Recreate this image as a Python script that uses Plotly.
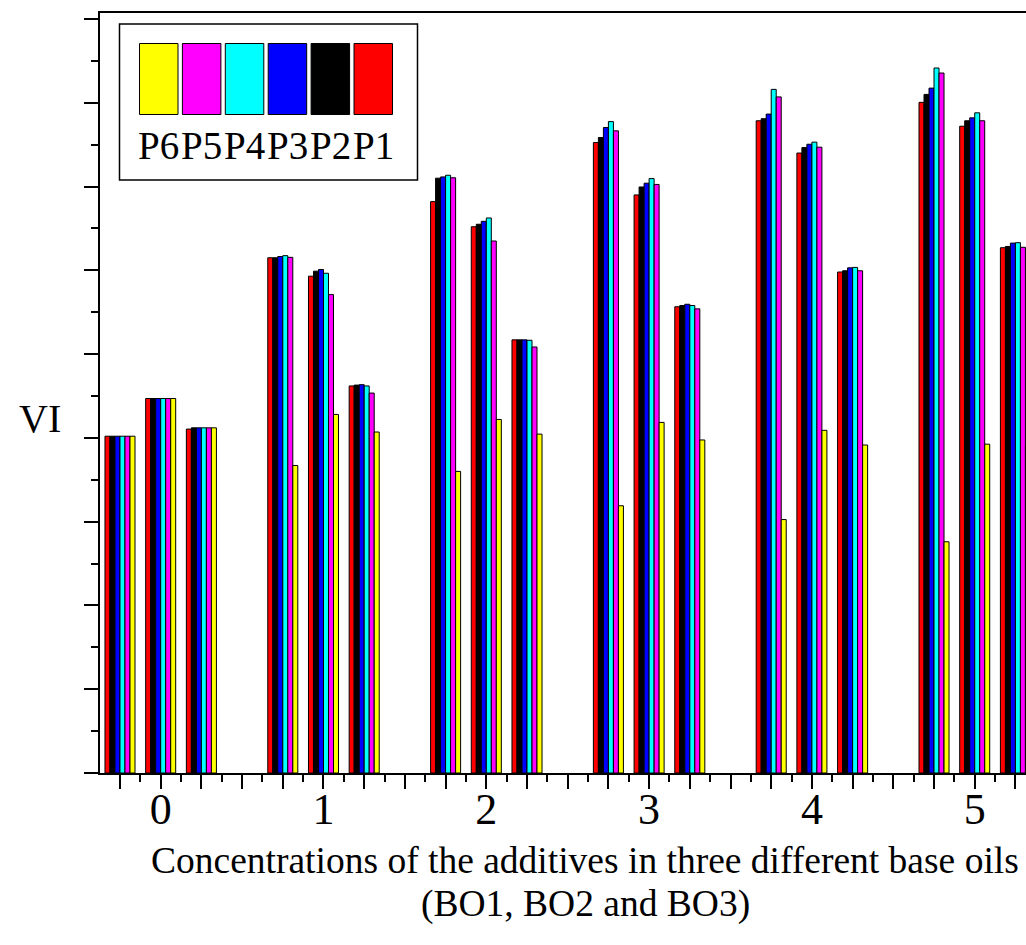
import plotly.graph_objects as go

# ---- data ----
concentrations = ["0", "1", "2", "3", "4", "5"]
base_oils = ["BO1", "BO2", "BO3"]
series_names = ["P1", "P2", "P3", "P4", "P5", "P6"]
series_colors = ["#FF0000", "#000000", "#0000FF", "#00FFFF", "#FF00FF", "#FFFF00"]

# values ordered: conc 0 (BO1, BO2, BO3), conc 1 (BO1, BO2, BO3), ...
P1 = [80.4, 89.4, 82.1, 123.0, 118.6, 92.4, 136.4, 130.4, 103.4,
      150.5, 138.0, 111.3, 155.7, 148.0, 119.6, 160.1, 154.4, 125.4]
P2 = [80.4, 89.4, 82.4, 123.0, 119.8, 92.6, 142.0, 131.0, 103.4,
      151.7, 139.9, 111.6, 156.2, 149.3, 119.9, 162.0, 155.7, 125.7]
P3 = [80.4, 89.4, 82.4, 123.3, 120.2, 92.7, 142.3, 131.7, 103.4,
      154.1, 140.8, 111.9, 157.3, 150.1, 120.6, 163.5, 156.4, 126.5]
P4 = [80.4, 89.4, 82.4, 123.5, 119.3, 92.4, 142.7, 132.5, 103.3,
      155.5, 141.9, 111.6, 163.2, 150.6, 120.7, 168.3, 157.6, 126.6]
P5 = [80.4, 89.4, 82.4, 123.1, 114.2, 90.7, 142.1, 127.0, 101.7,
      153.3, 140.5, 110.8, 161.4, 149.4, 119.9, 167.1, 155.7, 125.5]
P6 = [80.4, 89.4, 82.4, 73.4, 85.6, 81.4, 72.0, 84.4, 80.9,
      63.8, 83.7, 79.5, 60.5, 81.8, 78.3, 55.2, 78.5, 78.2]
series_values = [P1, P2, P3, P4, P5, P6]

FONT = "Liberation Serif, Times New Roman, serif"

# cluster positions on a numeric axis: 4 slots per concentration, 3 used
x_pos = [4 * ci + bi for ci in range(len(concentrations)) for bi in range(len(base_oils))]

fig = go.Figure()
bw = 0.123
n = len(series_names)
for i, (name, vals, col) in enumerate(zip(series_names, series_values, series_colors)):
    fig.add_trace(go.Bar(
        x=x_pos, y=vals, name=name,
        width=bw, offset=-n * bw / 2 + i * bw,
        marker=dict(color=col, line=dict(color="black", width=1)),
        showlegend=False,
    ))

W, H = 1026, 945
L, R, T, B = 100, 0, 13, 172
pw, ph = W - L - R, H - T - B

def px(x):
    return (x - L) / pw

def py(y):
    return (H - B - y) / ph

major_x = list(range(0, 23))
label_x = [4 * ci + 1 for ci in range(len(concentrations))]
ticktext = [concentrations[label_x.index(v)] if v in label_x else "" for v in major_x]

fig.update_layout(
    width=W, height=H, autosize=False,
    margin=dict(l=L, r=R, t=T, b=B, pad=0),
    plot_bgcolor="white", paper_bgcolor="white",
    barmode="overlay",
    font=dict(family=FONT, color="black"),
    xaxis=dict(
        range=[-0.491, 22.26], showgrid=False, zeroline=False,
        showline=True, linecolor="black", linewidth=2, mirror=True,
        tickmode="array", tickvals=major_x, ticktext=ticktext,
        ticks="outside", ticklen=14, tickwidth=2, tickcolor="black",
        tickfont=dict(family=FONT, size=44, color="black"),
        ticklabelstandoff=-18,
        minor=dict(tickvals=[v + 0.5 for v in range(-1, 23)], ticks="outside",
                   ticklen=7, tickwidth=2, tickcolor="black", showgrid=False),
    ),
    yaxis=dict(
        range=[0, 181.43], showgrid=False, zeroline=False,
        showline=True, linecolor="black", linewidth=2,
        tickmode="linear", tick0=0, dtick=20, showticklabels=False,
        ticks="outside", ticklen=14, tickwidth=2, tickcolor="black",
        minor=dict(tick0=10, dtick=20, ticks="outside", ticklen=7,
                   tickwidth=2, tickcolor="black", showgrid=False),
    ),
)

shapes = []
annotations = []
# legend box
shapes.append(dict(type="rect", xref="paper", yref="paper",
                   x0=px(119.5), x1=px(417.5), y0=py(180), y1=py(24),
                   line=dict(color="black", width=1.5), fillcolor="white", layer="above"))
leg_order = list(range(n))[::-1]  # P6 .. P1
sw_x0, sw_pitch, sw_w = 139.5, 42.9, 38.5
for k, si in enumerate(leg_order):
    x0 = sw_x0 + k * sw_pitch
    shapes.append(dict(type="rect", xref="paper", yref="paper",
                       x0=px(x0), x1=px(x0 + sw_w), y0=py(114.5), y1=py(43.5),
                       line=dict(color="black", width=1), fillcolor=series_colors[si],
                       layer="above"))
    annotations.append(dict(text=series_names[si], xref="paper", yref="paper",
                            x=px(x0 + sw_w / 2), y=py(145), xanchor="center", yanchor="middle",
                            showarrow=False, font=dict(family="Liberation Serif", size=39, color="black")))

annotations.append(dict(text="VI", xref="paper", yref="paper", x=px(40), y=py(418),
                        xanchor="center", yanchor="middle", showarrow=False,
                        font=dict(family=FONT, size=40, color="black")))
annotations.append(dict(text="Concentrations of the additives in three different base oils",
                        xref="paper", yref="paper", x=px(585), y=py(860),
                        xanchor="center", yanchor="middle", showarrow=False,
                        font=dict(family=FONT, size=37.5, color="black")))
annotations.append(dict(text="(BO1, BO2 and BO3)",
                        xref="paper", yref="paper", x=px(585), y=py(904),
                        xanchor="center", yanchor="middle", showarrow=False,
                        font=dict(family=FONT, size=37.5, color="black")))

fig.update_layout(shapes=shapes, annotations=annotations)
fig.write_html("out.html")
